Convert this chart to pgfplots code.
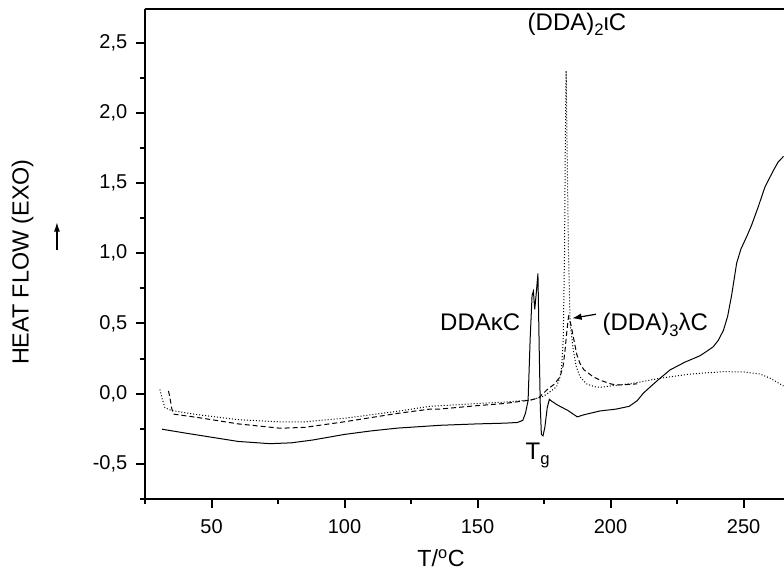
\documentclass[border=0pt]{standalone}
\usepackage{fontspec}
\setmainfont{Liberation Sans}
\usepackage{pgfplots}
\pgfplotsset{compat=1.18}
\usetikzlibrary{arrows.meta}
\newcommand{\lo}[1]{\raisebox{-0.45ex}{\fontsize{12.5}{14}\selectfont #1}}

\begin{document}
\begin{tikzpicture}
% page = 784x573 px at 0.75 pt/px
\path[use as bounding box] (-108.75pt,-55.5pt) rectangle (479.25pt,374.25pt);
\begin{axis}[
    at={(0,0)}, anchor=south west,
    scale only axis, width=479.25pt, height=367.5pt,
    xmin=25, xmax=265.2, ymin=-0.75, ymax=2.74,
    axis x line*=box, axis y line*=left,
    xtick pos=bottom, ytick pos=left,
    axis line style={line width=1.5pt},
    every tick/.style={line width=1.5pt, black},
    tick align=outside,
    major tick length=6.75pt, minor tick length=3.75pt,
    xtick={50,100,...,250}, minor xtick={25,75,...,275},
    ytick={-0.5,0,...,2.5}, minor ytick={-0.75,-0.25,...,2.75},
    ticklabel style={font=\fontsize{15}{17}\selectfont},
    xticklabel style={yshift=-5pt},
    yticklabel style={xshift=-3pt},
    /pgf/number format/assume math mode=true,
    yticklabel style={/pgf/number format/.cd, fixed, fixed zerofill, precision=1, use comma},
    clip=false,
  ]
  % DDA kappa C (solid)
  \addplot[black, line width=0.75pt, no markers] coordinates {
    (31.4,-0.253) (40,-0.28) (50,-0.31) (60,-0.34) (72,-0.356) (80,-0.35)
    (88,-0.33) (100,-0.29) (110,-0.265) (120,-0.245) (136,-0.225) (150,-0.215)
    (160,-0.21) (165,-0.205) (167,-0.19) (168,-0.14) (169,-0.05) (169.8,0.4)
    (170.5,0.7) (171,0.73) (171.5,0.6) (172,0.7) (172.7,0.856) (173.2,0.3)
    (173.6,-0.1) (174,-0.29) (174.6,-0.3) (175.3,-0.24) (176.2,-0.1) (177,-0.04)
    (177.6,-0.05) (180,-0.08) (184,-0.12) (187.5,-0.165) (190,-0.15) (196,-0.123)
    (202,-0.11) (207,-0.09) (210,-0.05) (212.3,0.003) (215,0.05) (218,0.1)
    (222.4,0.17) (228,0.225) (233.6,0.27) (236,0.3) (238.6,0.334) (240.5,0.38)
    (242.4,0.45) (244,0.55) (245.5,0.7) (247.4,0.93) (249,1.03) (251.2,1.12)
    (253,1.2) (255.5,1.33) (258,1.47) (261.2,1.59) (263,1.65) (265,1.69)
  };
  % (DDA)2 iota C (dotted)
  \addplot[black, line width=0.75pt, no markers, dash pattern=on 0.75pt off 1.5pt] coordinates {
    (30.6,0.03) (31.5,-0.04) (32.5,-0.1) (35,-0.12) (45,-0.15) (60,-0.185)
    (75,-0.2) (85,-0.2) (100,-0.175) (120,-0.125) (132,-0.09) (150,-0.07)
    (160,-0.06) (170,-0.045) (174.6,-0.02) (177,0.01) (179.7,0.05) (181,0.12)
    (181.6,0.19) (182.2,0.38) (182.7,1.0) (183,1.8) (183.3,2.30) (183.7,1.7)
    (184.2,1.0) (184.8,0.5) (186,0.31) (187,0.2) (188.5,0.12) (191,0.07)
    (194,0.05) (196,0.045) (200,0.055) (208.5,0.074) (218.6,0.11) (230,0.14)
    (242.4,0.157) (250,0.155) (256.2,0.14) (260,0.11) (264.4,0.062) (265,0.055)
  };
  % (DDA)3 lambda C (dashed)
  \addplot[black, line width=0.75pt, no markers, dash pattern=on 3.75pt off 2.25pt] coordinates {
    (33.8,0.02) (34.3,-0.02) (35,-0.1) (35.6,-0.145) (45,-0.17) (60,-0.215)
    (75.8,-0.246) (85,-0.24) (100,-0.2) (120,-0.14) (132,-0.11) (136,-0.109)
    (150,-0.085) (160,-0.07) (170,-0.045) (173,-0.03) (176,0.026) (179,0.07)
    (181,0.12) (182.2,0.2) (182.9,0.31) (183.6,0.45) (184.2,0.548) (185,0.5)
    (186,0.405) (187.3,0.28) (188.5,0.216) (190,0.17) (193.5,0.12) (196,0.097)
    (200,0.07) (202.3,0.062) (206,0.065) (210,0.07)
  };
  \begin{scope}[every node/.style={font=\fontsize{18}{21}\selectfont, inner sep=0pt}]
    \node at (axis cs:187.4,2.63) {(DDA)\lo{2}ιC};
    \node at (axis cs:151,0.51) {DDAκC};
    \node at (axis cs:216.8,0.49) {(DDA)\lo{3}λC};
    \node at (axis cs:172.6,-0.44) {T\lo{g}};
    \node[rotate=90, font=\fontsize{17.5}{20}\selectfont] at (axis cs:-21.05,0.937) {HEAT FLOW (EXO)};
    \node[font=\fontsize{17.5}{20}\selectfont] at (axis cs:136.3,-1.17) {T/\textsuperscript{o}C};
  \end{scope}
  \draw[-{Latex[length=7pt,width=5pt]}, line width=0.9pt] (axis cs:194.5,0.566) -- (axis cs:185.6,0.537);
  \draw[-{Latex[length=7pt,width=4.5pt]}, line width=0.9pt] (axis cs:-8.1,1.022) -- (axis cs:-8.1,1.221);
\end{axis}
\end{tikzpicture}
\end{document}
